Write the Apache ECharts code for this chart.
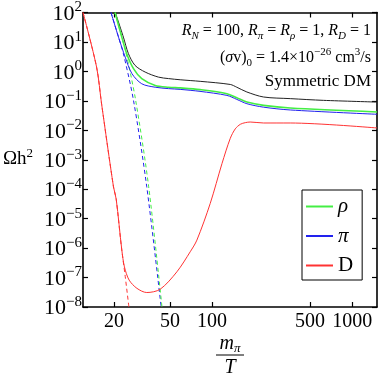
<!DOCTYPE html>
<html><head><meta charset="utf-8">
<script src="https://cdn.jsdelivr.net/npm/echarts@6/dist/echarts.min.js"></script>
<style>html,body{margin:0;padding:0;background:#fff}#c{width:380px;height:379px}</style>
</head><body><div id="c"></div>
<script>
// ---- data ----
const xTicks = [20, 50, 100, 500, 1000];
const xRange = [12, 1500];
const yRange = [1e-8, 100];

const xTotal = [20.4, 23.3, 25.3, 28.2, 33.3, 41.4, 48.9, 59.2, 82.2, 134.8, 150, 177, 233, 361, 622, 1500];
const yTotal = [100, 14.6, 4.0, 1.6, 0.95, 0.64, 0.57, 0.52, 0.46, 0.36, 0.29, 0.20, 0.135, 0.119, 0.104, 0.091];

const xRho = [20.3, 22.7, 24.6, 27.5, 31.5, 39.3, 48.9, 59.2, 82, 127.6, 150, 177, 233, 361, 1500];
const yRho = [100, 14.6, 4.0, 1.24, 0.57, 0.335, 0.29, 0.275, 0.24, 0.175, 0.128, 0.091, 0.070, 0.057, 0.042];

const xPi = [19.0, 21.5, 24.0, 26.8, 31.5, 39.3, 48.9, 59.2, 82, 127.6, 150, 177, 233, 361, 1500];
const yPi = [100, 14.6, 3.06, 0.84, 0.38, 0.29, 0.26, 0.245, 0.21, 0.153, 0.112, 0.08, 0.061, 0.049, 0.035];

const xD = [12.0, 15.0, 16.3, 19.8, 20.7, 22.7, 23.7, 25.6, 29.1, 34.2, 42.6, 56.1, 69.8, 77.9, 97.0, 117.6, 134.8, 146.3, 159, 172.5, 187, 233, 361, 1500];
const yD = [100, 1.40, 0.076, 1.2e-4, 4.6e-5, 8.6e-7, 2.3e-7, 8.2e-8, 4.3e-8, 3.1e-8, 4.0e-8, 1.57e-7, 7.5e-7, 1.87e-6, 3.3e-5, 7.4e-4, 5.35e-3, 0.0112, 0.016, 0.0182, 0.0191, 0.0177, 0.0177, 0.012];

const xRhoEq = [20.3, 22.7, 24.4, 28.5, 35.3, 43.9];
const yRhoEq = [100, 14.6, 3.98, 0.104, 1.2e-4, 1e-8];
const xPiEq = [19.0, 21.5, 23.3, 27.5, 34.2, 43.3];
const yPiEq = [100, 14.6, 3.98, 0.104, 1.2e-4, 1e-8];
const xDEq = [12.0, 15.0, 16.3, 19.8, 20.7, 22.5, 24.0, 25.5];
const yDEq = [100, 1.40, 0.076, 1.2e-4, 4.6e-5, 1.2e-6, 1.1e-7, 1e-8];

const zip = (xs, ys) => xs.map((x, i) => [x, ys[i]]);

const GREEN = '#44ee44', BLUE = '#2222ee', RED = '#ff3333', BLACK = '#222222';
const FONT = 'Liberation Serif';

function supLabel(v) {
  const e = Math.round(Math.log10(v));
  const s = e < 0 ? '\u2212' + (-e) : String(e);
  return '{b|10}{s|' + s + '}';
}

const chart = echarts.init(document.getElementById('c'), null, {renderer: 'canvas'});

function line(name, data, color, width, dashed, z) {
  return {
    name, type: 'line', data, smooth: 0.3,
    symbol: 'none', showSymbol: false, clip: true, z: z || 2,
    lineStyle: {color, width, type: dashed ? [4, 3] : 'solid'},
    itemStyle: {color}, silent: true, animation: false
  };
}

const axisLineStyle = {lineStyle: {color: '#000', width: 1.6}};

const option = {
  animation: false,
  grid: {left: 83, right: 3, top: 12, bottom: 72},
  xAxis: [
    {type: 'log', logBase: 10, min: xRange[0], max: xRange[1], position: 'bottom',
     axisLine: axisLineStyle,
     axisTick: {inside: true, length: 5, lineStyle: {color: '#000', width: 1.2}, customValues: xTicks},
     axisLabel: {customValues: xTicks, margin: 5, color: '#000', fontFamily: FONT, fontSize: 20,
                 formatter: v => String(Math.round(v))},
     splitLine: {show: false}, minorTick: {show: false}},
    {type: 'log', logBase: 10, min: xRange[0], max: xRange[1], position: 'top',
     axisLine: axisLineStyle,
     axisTick: {inside: true, length: 5, lineStyle: {color: '#000', width: 1.2}, customValues: xTicks},
     axisLabel: {show: false, customValues: xTicks},
     splitLine: {show: false}}
  ],
  yAxis: [
    {type: 'log', logBase: 10, min: yRange[0], max: yRange[1], interval: 1, position: 'left',
     axisLine: axisLineStyle,
     axisTick: {inside: true, length: 5, lineStyle: {color: '#000', width: 1.2}},
     axisLabel: {margin: 1, color: '#000', fontFamily: FONT, formatter: supLabel,
       rich: {
         b: {fontFamily: FONT, fontSize: 22, color: '#000', lineHeight: 25, verticalAlign: 'bottom'},
         s: {fontFamily: FONT, fontSize: 15, color: '#000', lineHeight: 15, verticalAlign: 'top'}
       }},
     splitLine: {show: false}},
    {type: 'log', logBase: 10, min: yRange[0], max: yRange[1], interval: 1, position: 'right',
     axisLine: axisLineStyle,
     axisTick: {inside: true, length: 5, lineStyle: {color: '#000', width: 1.2}},
     axisLabel: {show: false},
     splitLine: {show: false}}
  ],
  legend: {
    show: true,
    data: ['ρ', 'π', 'D'], orient: 'vertical', left: 302, top: 190,
    backgroundColor: '#fff', borderColor: '#000', borderWidth: 1,
    padding: [6, 9, 4, 3], itemWidth: 27, itemHeight: 14, itemGap: 8.5,
    selectedMode: false,
    itemStyle: {opacity: 0},
    formatter: n => n === 'D' ? '{u|D}' : '{i|' + n + '}',
    textStyle: {fontFamily: FONT, fontSize: 20, color: '#000',
      rich: {i: {fontFamily: FONT, fontSize: 21, fontStyle: 'italic', color: '#000'},
             u: {fontFamily: FONT, fontSize: 21, color: '#000'}}}
  },
  graphic: [
    {type: 'text', x: 3, y: 158, style: {
      text: '{b|Ωh}{s|2}', fontFamily: FONT, verticalAlign: 'middle', align: 'left',
      rich: {b: {fontFamily: FONT, fontSize: 19, color: '#000', lineHeight: 22, verticalAlign: 'bottom'},
             s: {fontFamily: FONT, fontSize: 13, color: '#000', lineHeight: 13, verticalAlign: 'top'}}}},
    {type: 'text', x: 371, y: 31, style: {
      text: '{i|R}{sub|N}{n| = 100, }{i|R}{sub|π}{n| = }{i|R}{sub|ρ}{n| = 1, }{i|R}{sub|D}{n| = 1}',
      align: 'right', verticalAlign: 'middle', fontFamily: FONT,
      rich: {n: {fontFamily: FONT, fontSize: 16, color: '#000', lineHeight: 22},
             i: {fontFamily: FONT, fontSize: 16, fontStyle: 'italic', color: '#000', lineHeight: 22},
             sub: {fontFamily: FONT, fontSize: 11, fontStyle: 'italic', color: '#000', lineHeight: 12, verticalAlign: 'bottom'}}}},
    {type: 'text', x: 371, y: 58, style: {
      text: '{n|(}{i|σ}{n|v)}{sub|0}{n| = 1.4×10}{sup|\u221226}{n| cm}{sup|3}{n|/s}',
      align: 'right', verticalAlign: 'middle', fontFamily: FONT,
      rich: {n: {fontFamily: FONT, fontSize: 16, color: '#000', lineHeight: 22},
             i: {fontFamily: FONT, fontSize: 16, fontStyle: 'italic', color: '#000', lineHeight: 22},
             sub: {fontFamily: FONT, fontSize: 11, color: '#000', lineHeight: 12, verticalAlign: 'bottom'},
             sup: {fontFamily: FONT, fontSize: 11, color: '#000', lineHeight: 12, verticalAlign: 'top'}}}},
    {type: 'text', x: 371, y: 82, style: {
      text: 'Symmetric DM', align: 'right', verticalAlign: 'middle',
      fontFamily: FONT, fontSize: 17, fill: '#000'}},
    {type: 'text', x: 230, y: 344, style: {
      text: '{i|m}{sub|π}', align: 'center', verticalAlign: 'middle', fontFamily: FONT,
      rich: {i: {fontFamily: FONT, fontSize: 20, fontStyle: 'italic', color: '#000', lineHeight: 22},
             sub: {fontFamily: FONT, fontSize: 13, fontStyle: 'italic', color: '#000', lineHeight: 13, verticalAlign: 'bottom'}}}},
    {type: 'line', shape: {x1: 216, y1: 355, x2: 244, y2: 355}, style: {stroke: '#000', lineWidth: 1}},
    {type: 'text', x: 230, y: 368, style: {
      text: 'T', align: 'center', verticalAlign: 'middle', fontFamily: FONT,
      fontSize: 20, fontStyle: 'italic', fill: '#000'}}
  ],
  series: [
    line('piEq', zip(xPiEq, yPiEq), BLUE, 1, true, 1),
    line('rhoEq', zip(xRhoEq, yRhoEq), GREEN, 1, true, 1),
    line('DEq', zip(xDEq, yDEq), RED, 1, true, 1),
    line('total', zip(xTotal, yTotal), BLACK, 1, false, 2),
    line('ρ', zip(xRho, yRho), GREEN, 1.6, false, 3),
    line('π', zip(xPi, yPi), BLUE, 1, false, 4),
    line('D', zip(xD, yD), RED, 1, false, 4)
  ]
};
chart.setOption(option);
</script></body></html>
